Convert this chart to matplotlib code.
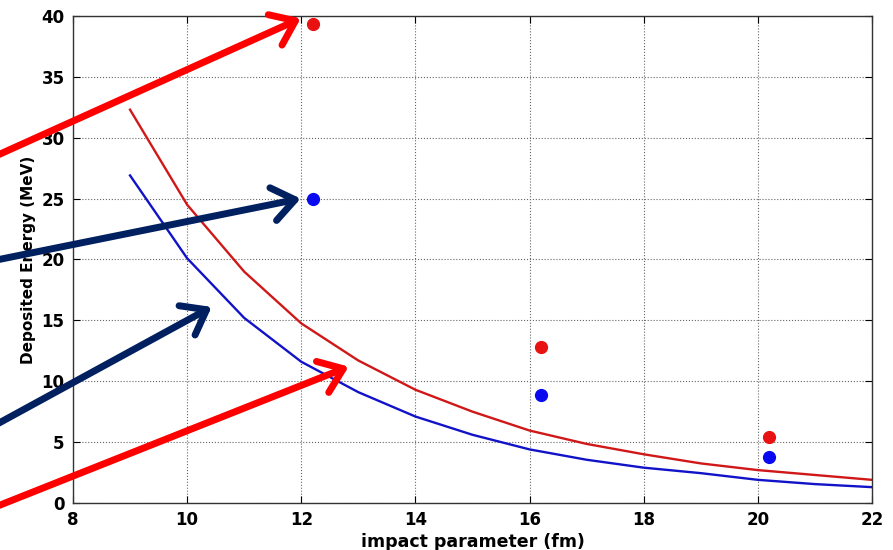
import numpy as np
import matplotlib.pyplot as plt
from matplotlib.patches import FancyArrowPatch

plt.rcParams['font.family'] = ['DejaVu Sans']
plt.rcParams['font.weight'] = 'bold'

# model curves (deposited energy vs impact parameter)
b_model = [9, 10, 11, 12, 13, 14, 15, 16, 17, 18, 19, 20, 21, 22]
e_red = [32.3, 24.5, 19.0, 14.75, 11.7, 9.3, 7.5, 5.95, 4.85, 4.0, 3.25, 2.7, 2.3, 1.9]
e_blue = [26.9, 20.1, 15.2, 11.6, 9.1, 7.1, 5.6, 4.4, 3.55, 2.9, 2.45, 1.9, 1.55, 1.3]

# points
b_pts = [12.2, 16.2, 20.2]
pts_red = [39.3, 12.85, 5.45]
pts_blue = [25.0, 8.9, 3.8]

xticks = list(range(8, 23, 2))
yticks = list(range(0, 41, 5))

# arrows: (tail, head) in data coordinates
arrows = [
    ((6.6, 28.4), (11.99, 39.8), '#ff0000'),
    ((6.6, 19.9), (11.99, 25.0), '#002060'),
    ((6.6, 6.3), (10.43, 16.1), '#002060'),
    ((6.6, -0.4), (12.83, 11.2), '#ff0000'),
]

fig = plt.figure(figsize=(8.93, 5.5), dpi=100)
ax = fig.add_axes([0.0817, 0.0855, 0.8948, 0.8855])

ax.plot(b_model, e_red, color='#d01818', lw=1.7)
ax.plot(b_model, e_blue, color='#1212c8', lw=1.7)
ax.plot(b_pts, pts_red, 'o', color='#e81212', ms=8.5, ls='None')
ax.plot(b_pts, pts_blue, 'o', color='#0a0af0', ms=8.5, ls='None')

ax.set_xlim(8, 22)
ax.set_ylim(0, 40)
ax.set_xticks(xticks)
ax.set_yticks(yticks)
ax.grid(True, ls=':', color='#666666', lw=0.8)
ax.tick_params(direction='in', length=5, top=True, right=True,
               labelsize=12, pad=6)
for lab in ax.get_xticklabels() + ax.get_yticklabels():
    lab.set_fontweight('bold')
for s in ax.spines.values():
    s.set_linewidth(1.0)
    s.set_color('#333333')

ax.set_xlabel('impact parameter (fm)', fontsize=12.5, fontweight='bold', labelpad=3)
ax.set_ylabel('Deposited Energy (MeV)', fontsize=11, fontweight='bold', labelpad=4)

for (x0, y0), (x1, y1), c in arrows:
    arr = FancyArrowPatch((x0, y0), (x1, y1),
                          arrowstyle='->,head_length=0.8,head_width=0.6',
                          mutation_scale=20, color=c, lw=5,
                          capstyle='round', joinstyle='round',
                          shrinkA=0, shrinkB=0, clip_on=False, zorder=5)
    ax.add_patch(arr)

fig.savefig('out.png', dpi=100)
